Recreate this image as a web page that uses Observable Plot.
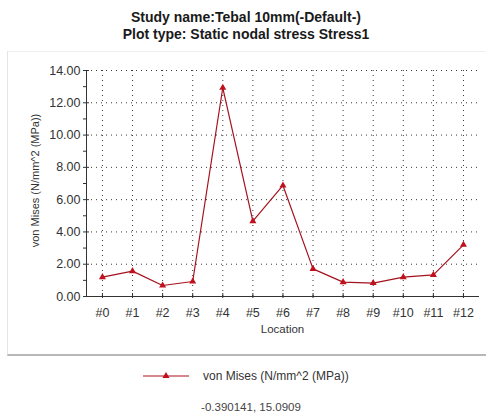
<!DOCTYPE html>
<html>
<head>
<meta charset="utf-8">
<script src="https://cdn.jsdelivr.net/npm/d3@7"></script>
<script src="https://cdn.jsdelivr.net/npm/@observablehq/plot@0.6"></script>
<style>
  html, body { margin: 0; padding: 0; background: #fff; }
  body { width: 486px; height: 416px; position: relative; overflow: hidden; font-family: "Liberation Sans", Arial, sans-serif; }
  #title { position: absolute; left: 0; width: 492px; top: 9px; text-align: center; font-weight: bold; font-size: 14px; line-height: 16.5px; color: #1a1a1a; }
  #panel { position: absolute; left: 7px; top: 51px; width: 490px; height: 302px; border-top: 1px solid #efefef; border-left: 1px solid #e4e4e4; border-bottom: 2px solid #b8b8b8; }
  #panel svg { position: absolute; left: 0; top: 0; }
  #legend { position: absolute; left: 143px; top: 368px; height: 16px; font-size: 12px; color: #333; display: flex; align-items: center; }
  #legend span { margin-left: 14px; }
  #caption { position: absolute; left: 0; width: 502px; top: 401px; text-align: center; font-size: 11.5px; color: #444; }
</style>
</head>
<body>
<div id="title">Study name:Tebal 10mm(-Default-)<br>Plot type: Static nodal stress Stress1</div>
<div id="panel"></div>
<div id="legend"></div>
<div id="caption"></div>
<script>
const locations = [0,1,2,3,4,5,6,7,8,9,10,11,12];
const locationLabels = ["#0","#1","#2","#3","#4","#5","#6","#7","#8","#9","#10","#11","#12"];
const vonMises = [1.20, 1.57, 0.68, 0.93, 12.93, 4.67, 6.88, 1.71, 0.89, 0.83, 1.20, 1.34, 3.20];
const yMajorTicks = [0,2,4,6,8,10,12,14];
const yMinorTicks = [1,3,5,7,9,11,13];
const seriesName = "von Mises (N/mm^2 (MPa))";
const xTitle = "Location";
const captionText = "-0.390141, 15.0909";

const data = locations.map((x, i) => ({x, v: vonMises[i]}));
const lineColor = "#a5121d";
const dotColor = "#c0101c";
const textColor = "#333";

const chart = Plot.plot({
  width: 478,
  height: 302,
  marginLeft: 78,
  marginRight: 8,
  marginTop: 18,
  marginBottom: 58,
  style: {fontFamily: "Liberation Sans, Arial, sans-serif", fontSize: "12.5px", color: textColor, background: "transparent"},
  x: {type: "linear", domain: [-0.53, 12.5]},
  y: {domain: [0, 14]},
  marks: [
    Plot.gridY({ticks: yMajorTicks, stroke: "#222", strokeOpacity: 0.9, strokeDasharray: "1,4"}),
    Plot.gridX({ticks: locations, stroke: "#222", strokeOpacity: 0.9, strokeDasharray: "1,4"}),
    Plot.frame({anchor: "left", stroke: "#333"}),
    Plot.frame({anchor: "bottom", stroke: "#333"}),
    Plot.axisY({ticks: yMajorTicks, tickSize: 6, dx: 3, text: null, stroke: "#333", label: null}),
    Plot.axisY({ticks: yMinorTicks, tickSize: 3, text: null, stroke: "#333", label: null}),
    Plot.axisY({ticks: yMajorTicks, tickSize: 0, tickPadding: 6, tickFormat: d => d.toFixed(2), fontSize: 12.5, fill: textColor, label: null}),
    Plot.axisX({ticks: locations, tickSize: 5, dy: -3, text: null, stroke: "#333", label: null}),
    Plot.axisX({ticks: locations, tickSize: 0, tickPadding: 12, tickFormat: d => locationLabels[d], fontSize: 12.5, fill: textColor, label: null}),
    Plot.text([xTitle], {frameAnchor: "bottom", dy: 36, fontSize: 11.5, fill: textColor}),
    Plot.text([seriesName], {frameAnchor: "left", textAnchor: "middle", rotate: -90, dx: -51, dy: -3, fontSize: 11, fill: textColor}),
    Plot.line(data, {x: "x", y: "v", stroke: lineColor, strokeWidth: 1.2}),
    Plot.dot(data, {x: "x", y: "v", symbol: "triangle", r: 2.6, fill: dotColor, stroke: "none"})
  ]
});
document.getElementById("panel").appendChild(chart);

// legend swatch
const legend = document.getElementById("legend");
const sw = d3.create("svg").attr("width", 46).attr("height", 12);
sw.append("line").attr("x1", 0).attr("x2", 46).attr("y1", 6).attr("y2", 6).attr("stroke", lineColor).attr("stroke-width", 1.2);
sw.append("path").attr("d", d3.symbol(d3.symbolTriangle, 22)()).attr("transform", "translate(23,6)").attr("fill", dotColor);
legend.appendChild(sw.node());
const lt = document.createElement("span");
lt.textContent = seriesName;
legend.appendChild(lt);
document.getElementById("caption").textContent = captionText;
</script>
</body>
</html>
